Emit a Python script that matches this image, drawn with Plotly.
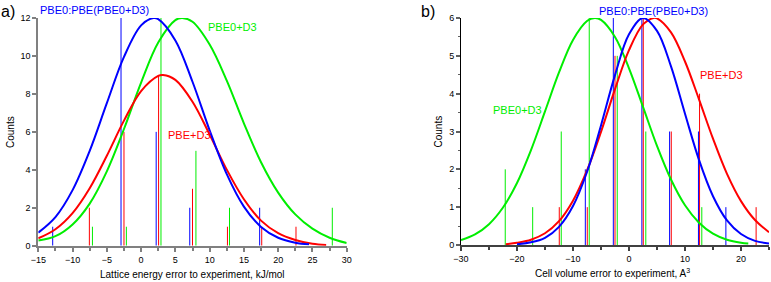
import plotly.graph_objects as go

# ---------------- Panel a) Lattice energy ----------------
a_blue_x = [-15, -12.5, -10, -7.5, -5, -2.5, 0, 1.8, 2.5, 5, 7.5, 10, 12.5, 15, 17.5, 20, 22.5, 24.5]
a_blue_y = [0.69, 1.51, 2.93, 5.0, 7.51, 9.95, 11.61, 12.0, 11.94, 10.82, 8.64, 6.08, 3.77, 2.06, 0.99, 0.42, 0.16, 0.07]
a_red_x = [-15, -12.5, -10, -7.5, -5, -2.5, 0, 2.5, 3.2, 5, 7.5, 10, 12.5, 15, 17.5, 20, 22.5, 25, 27]
a_red_y = [0.39, 0.87, 1.72, 3.03, 4.74, 6.59, 8.15, 8.95, 9.0, 8.74, 7.59, 5.86, 4.01, 2.45, 1.32, 0.66, 0.3, 0.1, 0.04]
a_green_x = [-15, -12.5, -10, -7.5, -5, -2.5, 0, 2.5, 5, 6.0, 7.5, 10, 12.5, 15, 17.5, 20, 22.5, 25, 27.5, 30]
a_green_y = [0.27, 0.5, 1.12, 2.22, 3.92, 6.15, 8.6, 10.71, 11.89, 12.0, 11.8, 10.6, 8.7, 6.45, 4.4, 2.8, 1.65, 0.9, 0.42, 0.14]

a_blue_bx = [-12.9, -2.93, 2.2, 7.1, 17.3]
a_blue_bh = [1, 12, 6, 2, 2]
a_red_bx = [-7.55, -2.5, 2.55, 7.5, 12.6, 17.6, 22.6]
a_red_bh = [2, 6, 9, 3, 1, 1, 1]
a_green_bx = [-7.1, -2.15, 2.9, 8.0, 12.9, 27.9]
a_green_bh = [1, 1, 12, 5, 2, 2]

# ---------------- Panel b) Cell volume ----------------
b_green_x = [-30, -27.5, -25, -22.5, -20, -17.5, -15, -12.5, -10, -7.5, -6.1, -5, -2.5, 0, 2.5, 5, 7.5, 10, 12.5, 15, 17.5, 20, 21.3]
b_green_y = [0.13, 0.28, 0.55, 0.99, 1.64, 2.51, 3.53, 4.56, 5.42, 5.92, 6.0, 5.95, 5.50, 4.67, 3.65, 2.62, 1.73, 1.05, 0.59, 0.30, 0.14, 0.06, 0.04]
b_blue_x = [-20, -17.5, -15, -12.5, -10, -7.5, -5, -2.5, 0, 2.5, 5, 7.5, 10, 12.5, 15, 17.5, 20, 22.5, 25]
b_blue_y = [0.02, 0.07, 0.19, 0.48, 1.03, 1.93, 3.16, 4.49, 5.57, 6.0, 5.66, 4.72, 3.47, 2.25, 1.29, 0.65, 0.29, 0.11, 0.04]
b_red_x = [-22, -20, -17.5, -15, -12.5, -10, -7.5, -5, -2.5, 0, 2.5, 4.4, 5, 7.5, 10, 12.5, 15, 17.5, 20, 22.5, 25]
b_red_y = [0.02, 0.06, 0.14, 0.31, 0.63, 1.17, 1.97, 2.99, 4.12, 5.15, 5.83, 6.0, 5.99, 5.62, 4.85, 3.85, 2.81, 1.88, 1.16, 0.66, 0.34]

b_blue_bx = [-7.8, -2.8, 2.3, 7.25, 12.4, 17.3]
b_blue_bh = [2, 6, 6, 3, 3, 1]
b_red_bx = [-12.45, -7.45, -2.5, 2.55, 7.55, 12.6, 22.7]
b_red_bh = [1, 1, 5, 6, 3, 4, 1]
b_green_bx = [-22.1, -17.2, -12.1, -7.1, -2.1, 3.0, 13.0]
b_green_bh = [2, 1, 3, 6, 5, 3, 1]

BLUE = "#0000ff"
RED = "#ff0000"
GREEN = "#00ee00"
FONT = "Liberation Sans, Arial, sans-serif"

W, H = 771, 282
A_X0, A_X1, A_Y0, A_Y1 = 38.3, 346.7, 245.7, 18.0   # pixel box of panel a
B_X0, B_X1, B_Y0, B_Y1 = 461.0, 769.0, 245.0, 18.0  # pixel box of panel b

fig = go.Figure()

def add_sticks(xs, hs, color, xa, ya):
    # histogram counts drawn as thin vertical sticks from 0 to the count
    sx, sy = [], []
    for x, h in zip(xs, hs):
        sx += [x, x, None]
        sy += [0, h, None]
    fig.add_trace(go.Scatter(x=sx, y=sy, mode="lines", line=dict(color=color, width=1),
                             xaxis=xa, yaxis=ya, showlegend=False, hoverinfo="skip"))

def add_curve(xs, ys, color, xa, ya):
    fig.add_trace(go.Scatter(x=xs, y=ys, mode="lines", line=dict(color=color, width=2, shape="spline", smoothing=1.0),
                             xaxis=xa, yaxis=ya, showlegend=False))

# panel a
add_sticks(a_blue_bx, a_blue_bh, BLUE, "x", "y")
add_sticks(a_red_bx, a_red_bh, RED, "x", "y")
add_sticks(a_green_bx, a_green_bh, GREEN, "x", "y")
add_curve(a_green_x, a_green_y, GREEN, "x", "y")
add_curve(a_red_x, a_red_y, RED, "x", "y")
add_curve(a_blue_x, a_blue_y, BLUE, "x", "y")

# panel b
add_sticks(b_blue_bx, b_blue_bh, BLUE, "x2", "y2")
add_sticks(b_red_bx, b_red_bh, RED, "x2", "y2")
add_sticks(b_green_bx, b_green_bh, GREEN, "x2", "y2")
add_curve(b_green_x, b_green_y, GREEN, "x2", "y2")
add_curve(b_red_x, b_red_y, RED, "x2", "y2")
add_curve(b_blue_x, b_blue_y, BLUE, "x2", "y2")

ax_common = dict(showgrid=False, zeroline=False, showline=True, ticks="outside", automargin=False,
                 tickfont=dict(family=FONT, size=9, color="#000"), fixedrange=True)

fig.update_layout(
    width=W, height=H, margin=dict(l=0, r=0, t=0, b=0, autoexpand=False),
    paper_bgcolor="white", plot_bgcolor="white",
    font=dict(family=FONT, color="#000"), showlegend=False,
    xaxis=dict(ax_common, domain=[A_X0 / W, A_X1 / W], range=[-15, 30], anchor="y",
               tickvals=[-15, -10, -5, 0, 5, 10, 15, 20, 25, 30], ticklen=4, tickwidth=1.5,
               tickcolor="#808080", linecolor="#808080", linewidth=2,
               minor=dict(dtick=2.5, tick0=0, ticks="outside", ticklen=3, tickwidth=1.5, tickcolor="#808080")),
    yaxis=dict(ax_common, domain=[1 - A_Y0 / H, 1 - A_Y1 / H], range=[0, 12], anchor="x",
               dtick=2, ticklen=4, tickwidth=1.5, tickcolor="#808080", linecolor="#808080", linewidth=2),
    xaxis2=dict(ax_common, domain=[B_X0 / W, B_X1 / W], range=[-30, 25], anchor="y2",
                tickvals=[-30, -20, -10, 0, 10, 20], ticklen=4, tickwidth=1.5,
                tickcolor="#404040", linecolor="#404040", linewidth=1.5,
                minor=dict(dtick=5, tick0=0, ticks="outside", ticklen=3, tickwidth=1.5, tickcolor="#404040")),
    yaxis2=dict(ax_common, domain=[1 - B_Y0 / H, 1 - B_Y1 / H], range=[0, 6], anchor="x2",
                dtick=1, ticklen=4, tickwidth=1.5, tickcolor="#606060", linecolor="#000000", linewidth=1,
                minor=dict(dtick=0.5, ticks="outside", ticklen=2, tickwidth=1, tickcolor="#606060")),
)

ann = []
def label(text, x, y, color, size=11, xanchor="center", yanchor="middle", angle=0):
    # x, y given in pixels of the 771x282 canvas
    ann.append(dict(text=text, x=x / W, y=1 - y / H, xref="paper", yref="paper", showarrow=False,
                    font=dict(family=FONT, size=size, color=color), borderpad=0,
                    xanchor=xanchor, yanchor=yanchor, textangle=angle))

# panel a series labels
label("PBE0:PBE(PBE0+D3)", 94.5, 10, BLUE)
label("PBE0+D3", 232, 27, GREEN)
label("PBE+D3", 189, 135, RED)
# panel b series labels
label("PBE0:PBE(PBE0+D3)", 653.3, 11, BLUE)
label("PBE+D3", 721, 75, RED)
label("PBE0+D3", 517.5, 110, GREEN)

# panel letters
label("a)", 0, 12, "#000", size=16, xanchor="left")
label("b)", 420, 12, "#000", size=16, xanchor="left")

# axis titles
label("Lattice energy error to experiment, kJ/mol", 192.5, 274, "#000", size=10)
label("Counts", 10, 132, "#000", size=10, angle=-90)
label("Cell volume error to experiment, A<sup>3</sup>", 612.5, 273, "#000", size=10)
label("Counts", 437.5, 132, "#000", size=10, angle=-90)

fig.update_layout(annotations=ann)

fig.write_html("out.html", config={"displayModeBar": False},
               post_script="document.body.style.margin='0px';document.body.style.padding='0px';")
